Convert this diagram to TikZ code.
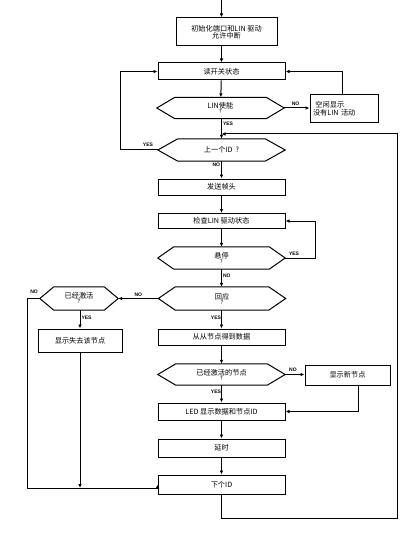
\documentclass[tikz,border=0pt]{standalone}
\usepackage{fontspec}
\setmainfont{Noto Sans CJK SC}
\newfontfamily\lblfont{Liberation Sans}
\usetikzlibrary{arrows.meta,calc}
\begin{document}
\begin{tikzpicture}[x=1pt,y=-1pt,
  every node/.style={font=\fontsize{7.2}{8}\selectfont, inner sep=0pt},
  box/.style={draw, line width=1pt, align=center, minimum width=127pt},
  hexn/.style={align=center, minimum width=127pt, minimum height=22pt},
  lbl/.style={font=\lblfont\fontsize{5}{5}\selectfont\bfseries},
  arr/.style={line width=1pt, -{Latex[length=4pt,width=3.5pt]}},
  ln/.style={line width=1pt}]
\useasboundingbox (0,0) rectangle (404,540);
% nodes
\coordinate (start) at (221.5,0);
\node[box, minimum width=101pt, minimum height=28pt] (init) at (226.5,32) {初始化端口和LIN 驱动\\[-1pt]允许中断};
\node[box, minimum height=17pt] (sw) at (221.5,71.5) {读开关状态};
\node[hexn, minimum height=21pt] (lin) at (220.5,108) {LIN使能\\[-3pt]{\fontsize{5.5}{5.5}\selectfont ?}};
\node[box, minimum width=68pt, minimum height=28pt, text width=62pt, align=left] (idle) at (344,109) {\ 空闲显示\\没有LIN 活动};
\node[hexn] (prev) at (221.5,150) {上一个ID\ \ ?};
\node[box, minimum height=16pt] (send) at (221.5,187) {发送帧头};
\node[box, minimum height=15pt] (check) at (221.5,221) {检查LIN 驱动状态};
\node[hexn] (hang) at (221.5,258) {悬停\\[-3pt]{\fontsize{5.5}{5.5}\selectfont ?}};
\node[hexn, minimum height=23pt] (resp) at (222,298.5) {回应\\[-3pt]{\fontsize{5.5}{5.5}\selectfont ?}};
\node[hexn, minimum width=78pt, minimum height=23pt] (act) at (79,298.5) {已经激活\\[-3pt]{\fontsize{5.5}{5.5}\selectfont ?}};
\node[box, minimum width=84pt, minimum height=23pt] (lost) at (80,340.5) {显示失去该节点};
\node[box, minimum height=16pt] (getd) at (221.5,337) {从从节点得到数据};
\node[hexn, minimum height=21pt] (actn) at (221.5,374.5) {已经激活的节点\\[-3pt]{\fontsize{5.5}{5.5}\selectfont ?}};
\node[box, minimum width=85pt, minimum height=20pt] (newn) at (347.5,375) {显示新节点};
\node[box, minimum height=17pt] (led) at (221.5,411.5) {LED 显示数据和节点ID};
\node[box, minimum height=18pt] (delay) at (221.5,448) {延时};
\node[box, minimum height=19pt] (next) at (221.5,484.5) {下个ID};
% hexagon outlines
\foreach \n/\s in {lin/18,prev/20,hang/16,resp/17,actn/18,act/14}{
  \draw[ln] (\n.west) -- ([xshift=\s pt]\n.north west) -- ([xshift=-\s pt]\n.north east)
    -- (\n.east) -- ([xshift=-\s pt]\n.south east) -- ([xshift=\s pt]\n.south west) -- cycle;
}
% helper coordinates
\coordinate (loopL) at (120,150);
\coordinate (j1) at (221.5,134);
\coordinate (rb) at (397,518);
\coordinate (lb) at (27,488);
% connectors
\draw[arr] (start) -- (init.north -| start);
\draw[arr] (init.south -| sw.north) -- (sw.north);
\draw[arr] (sw) -- (lin);
\draw[arr] (lin.east) -- (idle.west |- lin.east) node[lbl, pos=0.45, above=2pt] {NO};
\draw[arr] (idle.north -| 342,0) |- (sw.east);
\draw[arr] (lin.south -| prev.north) -- (prev.north) node[lbl, pos=0.25, right=1pt] {YES};
\draw[arr] (next.south) |- (rb) |- (j1);
\draw[arr] (prev.west) -| (loopL |- sw.west) -- (sw.west);
\node[lbl] at (148,145) {YES};
\draw[arr] (prev) -- (send) node[lbl, pos=0.2, left=1pt] {NO};
\draw[arr] (send) -- (check);
\draw[arr] (check) -- (hang);
\draw[arr] (hang.east) -| (315,221) -- (check.east);
\node[lbl] at (294,254) {YES};
\draw[arr] (hang) -- (resp.north -| hang.south) node[lbl, pos=0.35, right=1pt] {NO};
\draw[arr] (resp.west) -- (act.east) node[lbl, pos=0.5, above=1pt] {NO};
\draw[arr] (act.west) -| (lb) -- (lb -| next.west) -- (next.west);
\node[lbl] at (34,292) {NO};
\draw[arr] (act.south -| lost.north) -- (lost.north) node[lbl, pos=0.4, right=1pt] {YES};
\draw[arr] (lost.south) -- (lost.south |- lb);
\draw[arr] (resp.south -| getd.north) -- (getd.north) node[lbl, pos=0.4, left=0pt] {YES};
\draw[arr] (getd) -- (actn);
\draw[arr] (actn.east) -- (newn.west |- actn.east) node[lbl, pos=0.4, above=2pt] {NO};
\draw[arr] (newn.south -| 358,0) |- (led.east);
\draw[arr] (actn) -- (led) node[lbl, pos=0.4, left=0pt] {YES};
\draw[arr] (led) -- (delay);
\draw[arr] (delay) -- (next);
\end{tikzpicture}
\end{document}
